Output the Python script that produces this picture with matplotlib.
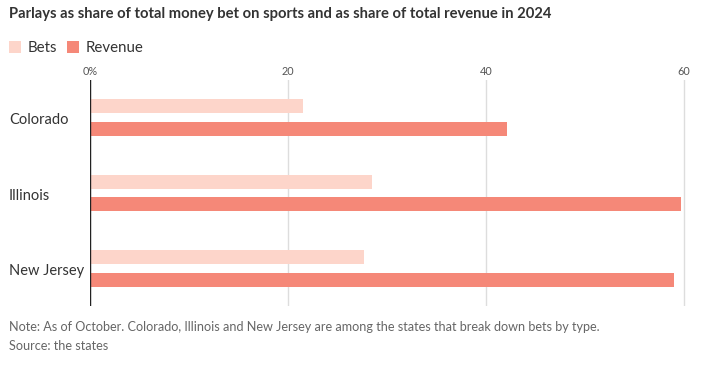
import matplotlib
matplotlib.use("Agg")
import matplotlib.pyplot as plt
import matplotlib.transforms as mtransforms
from matplotlib.patches import Patch

plt.rcParams['font.family'] = ['Lato', 'DejaVu Sans']

# Data
states = ["Colorado", "Illinois", "New Jersey"]
bets = [21.5, 28.5, 27.7]
revenue = [42.1, 59.7, 59.0]
ticks = [0, 20, 40, 60]
tick_labels = ["0%", "20", "40", "60"]

bets_color = "#fdd5ca"
rev_color = "#f58878"

W, H = 706, 377
fig = plt.figure(figsize=(W / 100, H / 100), dpi=100)
# axes: x from 90px to ~694px, y from 80px to 306px
ax = fig.add_axes([90 / W, (H - 306) / H, (694 - 90) / W, (306 - 80) / H])

ypos = list(range(len(states)))
ax.barh([y - 0.15 for y in ypos], bets, height=0.185, color=bets_color, zorder=3)
ax.barh([y + 0.15 for y in ypos], revenue, height=0.185, color=rev_color, zorder=3)

ax.set_xlim(0, 61)
ax.set_ylim(2.5, -0.5)
ax.set_xticks(ticks)
ax.set_xticklabels(tick_labels)
ax.xaxis.tick_top()
ax.tick_params(axis='x', length=0, pad=2.5, labelsize=7.8, colors="#555555")
ax.set_yticks([])
for s in ax.spines.values():
    s.set_visible(False)
ax.grid(axis='x', color="#dddddd", linewidth=1, zorder=0)
ax.axvline(0, color="#222222", linewidth=1, zorder=4)

# State labels
trans = mtransforms.blended_transform_factory(fig.transFigure, ax.transData)
for y, name in zip(ypos, states):
    ax.text(9 / W, y + 0.035, name, transform=trans, fontsize=10.5, color="#333333",
            va='center', ha='left')

# Title
fig.text(9 / W, 1 - 14 / H, "Parlays as share of total money bet on sports and as share of total revenue in 2024",
         fontsize=10.6, fontweight='bold', color="#333333", va='center', ha='left')

# Legend
handles = [Patch(facecolor=bets_color, edgecolor='none'), Patch(facecolor=rev_color, edgecolor='none')]
fig.legend(handles, ["Bets", "Revenue"], loc='center left', bbox_to_anchor=(-5 / W, 1 - 48 / H),
           ncol=2, frameon=False, fontsize=10.8, handlelength=0.85, handleheight=0.85,
           handletextpad=0.45, columnspacing=0.6, labelcolor="#333333")

# Notes
fig.text(9 / W, 1 - 327 / H, "Note: As of October. Colorado, Illinois and New Jersey are among the states that break down bets by type.",
         fontsize=9.05, color="#666666", va='center', ha='left')
fig.text(9 / W, 1 - 346 / H, "Source: the states", fontsize=9.05, color="#666666", va='center', ha='left')

fig.savefig("out.png", dpi=100)
